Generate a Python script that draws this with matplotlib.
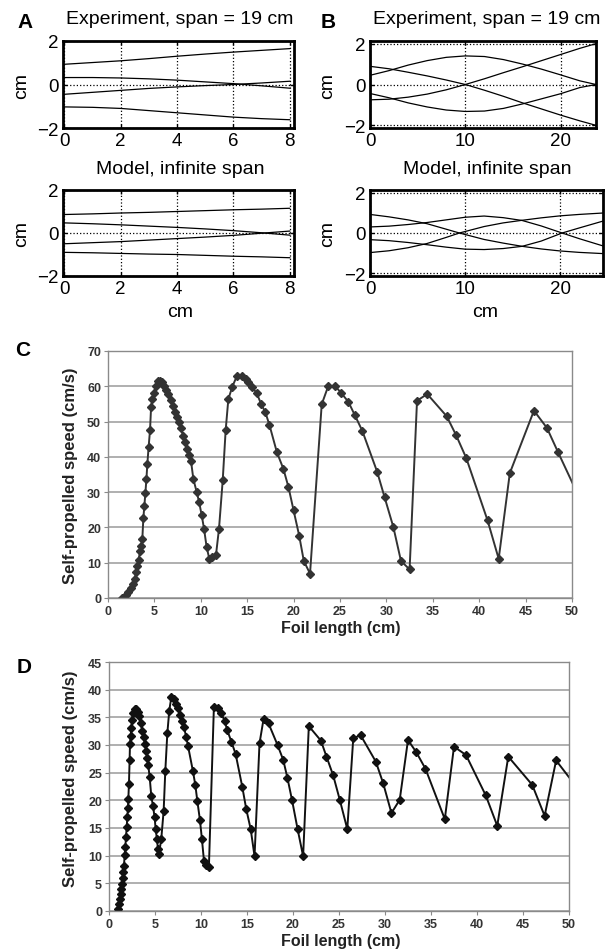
import matplotlib
matplotlib.use('Agg')
import matplotlib.pyplot as plt

plt.rcParams['font.family'] = ['Liberation Sans', 'DejaVu Sans']

# --- panel A: chord-wise deflection, short foil (cm) ---
a_x = [0, 1, 2, 3, 4, 5, 6, 7, 8]
a_exp = [
    [0.93, 1.01, 1.09, 1.19, 1.30, 1.40, 1.49, 1.57, 1.65],
    [0.32, 0.32, 0.30, 0.26, 0.20, 0.12, 0.04, -0.06, -0.17],
    [-0.45, -0.36, -0.27, -0.18, -0.11, -0.05, 0.00, 0.07, 0.15],
    [-1.03, -1.05, -1.10, -1.20, -1.30, -1.40, -1.50, -1.57, -1.62],
]
a_mod = [
    [0.86, 0.89, 0.93, 0.96, 1.00, 1.04, 1.08, 1.11, 1.15],
    [0.47, 0.43, 0.38, 0.32, 0.26, 0.19, 0.11, 0.01, -0.10],
    [-0.50, -0.45, -0.40, -0.33, -0.26, -0.19, -0.11, -0.01, 0.09],
    [-0.90, -0.92, -0.95, -0.98, -1.00, -1.04, -1.08, -1.11, -1.15],
]

# --- panel B: long foil ---
b_x_exp = [0, 2, 4, 6, 8, 10, 12, 14, 16, 18, 20, 22, 23.7]
b_exp = [
    [0.45, 0.68, 0.95, 1.17, 1.33, 1.40, 1.37, 1.22, 1.00, 0.75, 0.47, 0.18, 0.00],
    [0.89, 0.77, 0.60, 0.42, 0.22, 0.00, -0.28, -0.58, -0.90, -1.20, -1.50, -1.78, -2.00],
    [-0.44, -0.65, -0.90, -1.10, -1.25, -1.32, -1.30, -1.17, -0.95, -0.70, -0.45, -0.15, 0.00],
    [-0.75, -0.72, -0.62, -0.47, -0.26, 0.00, 0.28, 0.58, 0.87, 1.17, 1.47, 1.77, 2.00],
]
b_mod_lines = [
    ([0, 2, 4, 6, 8, 9.4, 12, 14, 16, 18, 20, 22, 24.5],
     [0.92, 0.80, 0.65, 0.46, 0.19, 0.00, -0.32, -0.50, -0.66, -0.79, -0.89, -0.96, -1.02]),
    ([0, 2, 4, 6, 8, 10, 12, 14, 16, 18, 20.2, 22, 24.5],
     [0.30, 0.34, 0.42, 0.52, 0.65, 0.78, 0.84, 0.76, 0.62, 0.35, 0.00, -0.28, -0.64]),
    ([0, 2, 4, 6, 8, 10, 12, 14, 16, 18, 20.2, 22, 24.5],
     [-0.33, -0.38, -0.47, -0.58, -0.70, -0.80, -0.82, -0.77, -0.66, -0.40, 0.00, 0.25, 0.59]),
    ([0, 2, 4, 6, 8, 9.4, 12, 14, 16, 18, 20, 22, 24.5],
     [-0.97, -0.88, -0.73, -0.52, -0.22, 0.00, 0.32, 0.50, 0.63, 0.75, 0.85, 0.92, 0.99]),
]

# --- panel C: self-propelled speed vs foil length ---
c_len = [1.55, 1.94, 2.19, 2.44, 2.66, 2.88, 3.06, 3.16, 3.30, 3.45, 3.59, 3.70,
         3.81, 3.92, 4.03, 4.14, 4.24, 4.38, 4.53, 4.64, 4.78, 4.96, 5.14, 5.36,
         5.61, 5.86, 6.08, 6.29, 6.50, 6.75, 6.97, 7.22, 7.40, 7.65, 7.86, 8.08,
         8.30, 8.51, 8.73, 8.94, 9.20, 9.56, 9.81, 10.10, 10.35, 10.63, 10.92,
         11.17, 11.64, 11.96, 12.36, 12.68, 12.97, 13.40, 13.87, 14.40, 14.84,
         15.13, 15.56, 16.03, 16.50, 16.96, 17.40, 18.20, 18.90, 19.45, 20.00,
         20.60, 21.10, 21.77, 23.03, 23.74, 24.46, 25.10, 25.90, 26.60, 27.40,
         29.00, 29.80, 30.75, 31.57, 32.50, 33.30, 34.40, 36.50, 37.50, 38.60,
         40.90, 42.10, 43.30, 45.90, 47.30, 48.50, 50.60]
c_speed = [0.0, 0.75, 1.7, 2.8, 4.05, 5.5, 7.35, 9.2, 10.9, 13.2, 14.7, 16.8,
           22.6, 26.2, 29.8, 33.7, 38.0, 42.9, 47.6, 54.0, 56.5, 58.2, 60.1, 61.4,
           61.5, 61.1, 60.1, 59.0, 57.8, 56.1, 54.5, 52.6, 51.2, 49.8, 48.1, 46.0,
           44.1, 42.2, 40.5, 38.9, 33.7, 30.0, 27.3, 23.4, 19.6, 14.4, 11.1,
           11.6, 12.3, 19.6, 33.3, 47.6, 56.4, 59.9, 62.8, 63.0, 62.0,
           61.1, 59.7, 58.0, 55.0, 52.6, 49.0, 41.3, 36.6, 31.4, 24.8,
           17.7, 10.5, 6.9, 54.9, 60.1, 60.1, 58.2, 55.6, 51.8, 47.4,
           35.8, 28.6, 20.1, 10.5, 8.1, 55.9, 57.8, 51.5, 46.2, 39.7,
           22.0, 11.1, 35.4, 53.1, 48.2, 41.3, 29.5]

# --- panel D ---
d_len = [0.98, 1.09, 1.19, 1.27, 1.34, 1.41, 1.48, 1.56, 1.63, 1.70, 1.77, 1.85,
         1.92, 1.99, 2.06, 2.10, 2.17, 2.24, 2.28, 2.35, 2.43, 2.50, 2.61, 2.79,
         2.97, 3.15, 3.29, 3.44, 3.62, 3.77, 3.91, 4.06, 4.16, 4.27, 4.42, 4.60,
         4.78, 4.96, 5.07, 5.21, 5.32, 5.43, 5.68, 5.94, 6.12, 6.34, 6.55, 6.77,
         7.02, 7.24, 7.49, 7.75, 7.93, 8.15, 8.40, 8.58, 9.12, 9.38, 9.60, 9.88,
         10.10, 10.32, 10.57, 10.86, 11.40, 11.84, 12.20, 12.56, 12.85, 13.30,
         13.76, 14.48, 14.92, 15.40, 15.82, 16.36, 16.80, 17.34, 18.32, 18.94,
         19.40, 19.90, 20.50, 21.10, 21.72, 23.03, 23.64, 24.37, 25.10, 25.90,
         26.55, 27.34, 29.00, 29.80, 30.70, 31.60, 32.50, 33.40, 34.40, 36.50,
         37.50, 38.80, 40.95, 42.20, 43.40, 46.00, 47.35, 48.60, 50.50]
d_speed = [0.4, 1.3, 2.2, 3.0, 4.0, 4.9, 6.0, 7.0, 8.2, 10.1, 11.5, 13.4,
           15.1, 16.9, 18.7, 20.2, 23.0, 27.3, 30.1, 31.6, 33.0, 34.5, 35.7, 36.5,
           36.5, 36.0, 35.3, 34.0, 32.6, 31.4, 30.2, 29.0, 27.7, 26.3, 24.2, 20.7,
           19.0, 16.9, 14.8, 13.0, 11.2, 10.3, 13.0, 18.1, 25.3, 32.1, 36.2, 38.6,
           38.3, 37.5, 36.6, 35.4, 34.4, 33.2, 31.4, 29.9, 25.3, 22.8, 19.9, 16.5,
           13.0, 9.1, 8.3, 8.0, 36.8, 36.6, 35.7, 34.4, 32.7, 30.6,
           28.4, 22.5, 18.4, 14.8, 9.9, 30.3, 34.7, 33.9, 30.0, 27.3,
           24.0, 20.0, 14.8, 9.9, 33.4, 30.8, 27.9, 24.5, 20.0, 14.8,
           31.2, 31.8, 27.0, 23.1, 17.7, 20.1, 30.9, 28.7, 25.7, 16.6,
           29.7, 28.2, 20.9, 15.4, 27.9, 22.8, 17.2, 27.2, 23.1]

W, H = 608, 953
fig = plt.figure(figsize=(W / 100, H / 100), dpi=100)


def box(x0, y0, x1, y1):
    return [x0 / W, 1 - y1 / H, (x1 - x0) / W, (y1 - y0) / H]


def put(x, y, s, **kw):
    fig.text(x / W, 1 - y / H, s, ha='center', va='center', **kw)


def wave_axes(rect, xlim, xticks):
    ax = fig.add_axes(rect)
    ax.set_xlim(*xlim)
    ax.set_ylim(-2.13, 2.13)
    ax.set_xticks(xticks)
    ax.set_yticks([-2, 0, 2])
    ax.grid(True, color='k', ls=':', lw=0.9)
    for s in ax.spines.values():
        s.set_linewidth(2)
    ax.tick_params(direction='in', length=3, width=1, labelsize=13.5,
                   top=True, right=True, pad=3)
    return ax


# A
ax = wave_axes(box(63, 42, 294, 129), (-0.05, 8.15), [0, 2, 4, 6, 8])
ax.set_ylim(-2, 2)
for ys in a_exp:
    ax.plot(a_x, ys, color='k', lw=0.9)
ax = wave_axes(box(63, 191, 294, 277), (-0.05, 8.15), [0, 2, 4, 6, 8])
ax.set_ylim(-2, 2)
for ys in a_mod:
    ax.plot(a_x, ys, color='k', lw=0.9)

# B
ax = wave_axes(box(370, 42, 596, 129), (0, 23.7), [0, 10, 20])
for ys in b_exp:
    ax.plot(b_x_exp, ys, color='k', lw=0.9)
ax = wave_axes(box(370, 191, 603, 277), (0, 24.5), [0, 10, 20])
for xs, ys in b_mod_lines:
    ax.plot(xs, ys, color='k', lw=0.9)

put(25, 22, 'A', fontsize=15, fontweight='bold')
put(328, 22, 'B', fontsize=15, fontweight='bold')
put(180, 20, 'Experiment, span = 19 cm', fontsize=14)
put(487, 20, 'Experiment, span = 19 cm', fontsize=14)
put(180, 170, 'Model, infinite span', fontsize=14)
put(487, 170, 'Model, infinite span', fontsize=14)
put(180, 313, 'cm', fontsize=14)
put(485, 313, 'cm', fontsize=14)
for (x, y) in [(22, 86), (328, 86), (22, 234), (328, 234)]:
    put(x, y, 'cm', fontsize=14, rotation=90)


def speed_axes(rect, ymax, ystep, xs, ys, col):
    ax = fig.add_axes(rect)
    ax.set_xlim(0, 50)
    ax.set_ylim(0, ymax)
    ax.set_xticks(range(0, 51, 5))
    ax.set_yticks(range(0, ymax + 1, ystep))
    ax.yaxis.grid(True, color='#9a9a9a', lw=1.1)
    ax.set_axisbelow(True)
    for s in ax.spines.values():
        s.set_color('#8a8a8a')
        s.set_linewidth(1)
    ax.tick_params(colors='#8a8a8a', labelcolor='#333333', length=3,
                   labelsize=9, pad=2)
    for lab in ax.get_xticklabels() + ax.get_yticklabels():
        lab.set_fontweight('bold')
    ax.plot(xs, ys, color=col, lw=1.4, marker='D', ms=3.8, mec=col, mfc=col)
    return ax


speed_axes(box(108, 352, 572, 599), 70, 10, c_len, c_speed, '#333333')
speed_axes(box(109, 663, 569, 912), 45, 5, d_len, d_speed, '#111111')

put(23, 350, 'C', fontsize=15, fontweight='bold')
put(24, 668, 'D', fontsize=15, fontweight='bold')
put(70, 476, 'Self-propelled speed (cm/s)', fontsize=12, fontweight='bold',
    rotation=90, color='#222222')
put(70, 779, 'Self-propelled speed (cm/s)', fontsize=12, fontweight='bold',
    rotation=90, color='#222222')
put(341, 628, 'Foil length (cm)', fontsize=11.5, fontweight='bold', color='#222222')
put(341, 942, 'Foil length (cm)', fontsize=11.5, fontweight='bold', color='#222222')

fig.savefig('out.png', dpi=100)
